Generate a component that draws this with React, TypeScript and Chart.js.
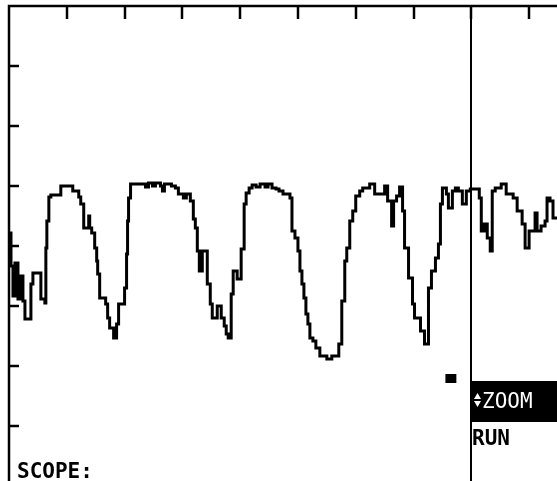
import { useEffect, useRef } from 'react';
import { Chart, registerables } from 'chart.js';

Chart.register(...registerables);

// Sample index where each level begins (stepped trace), 1 division = 58 samples
const SAMPLES = [
  0, 2, 4, 6, 9, 11, 14, 16, 22, 24,
  32, 36, 37, 38, 40, 42, 52, 64, 70, 72,
  75, 80, 81, 83, 86, 88, 89, 91, 97, 99,
  101, 105, 108, 110, 116, 118, 119, 120, 122, 132,
  137, 140, 144, 147, 152, 154, 156, 163, 167, 170,
  175, 178, 182, 185, 187, 189, 191, 194, 199, 202,
  204, 209, 213, 216, 218, 220, 223, 225, 229, 233,
  236, 238, 241, 244, 248, 252, 257, 260, 264, 268,
  271, 275, 282, 284, 287, 290, 292, 294, 296, 298,
  300, 302, 305, 308, 312, 319, 324, 331, 334, 337,
  339, 342, 345, 348, 352, 355, 362, 367, 377, 380,
  384, 386, 389, 392, 395, 397, 401, 405, 407, 413,
  417, 421, 424, 428, 431, 433, 435, 439, 441, 445,
  448, 451, 455, 459, 463, 472, 474, 477, 480, 483,
  485, 488, 494, 499, 506, 510, 515, 518, 522, 528,
  530, 534, 538, 540, 543, 546, 550,
];

// Signal level (counts), 1 division = 60 counts
const LEVELS = [
  253, 220, 190, 223, 187, 210, 185, 167, 202, 213,
  187, 183, 238, 265, 289, 291, 300, 295, 289, 282,
  258, 270, 258, 253, 238, 225, 212, 188, 182, 168,
  158, 148, 162, 182, 198, 232, 265, 288, 302, 302,
  299, 303, 300, 303, 300, 295, 302, 300, 298, 292,
  288, 292, 285, 267, 258, 235, 215, 235, 202, 182,
  168, 180, 168, 160, 152, 148, 192, 215, 207, 237,
  282, 293, 298, 301, 299, 302, 299, 302, 298, 297,
  295, 292, 288, 255, 248, 235, 215, 202, 188, 172,
  162, 148, 145, 138, 130, 127, 130, 142, 185, 225,
  238, 265, 275, 290, 295, 298, 302, 292, 300, 285,
  260, 285, 290, 299, 275, 238, 208, 182, 168, 155,
  142, 198, 215, 228, 242, 282, 298, 292, 278, 295,
  298, 295, 282, 295, 297, 288, 255, 262, 248, 235,
  295, 298, 302, 292, 288, 275, 262, 238, 255, 273,
  255, 260, 265, 288, 285, 268, 268,
];

const X_TICKS = [58, 116, 174, 232, 290, 348, 406, 464, 522];
const Y_TICKS = [60, 120, 180, 240, 300, 360, 420];
const CURSOR_SAMPLE = 464;
const MARKER_SAMPLES = [438, 449];
const MARKER_LEVELS = [103, 112];
const MENU_ITEMS = ['ZOOM', 'RUN'];
const MODE_LABEL = 'SCOPE:';

const FONT = 'bold 21px "DejaVu Sans Mono"';

const scopePlugin = {
  id: 'scopeDecor',
  beforeDraw(chart: any) {
    const ctx = chart.ctx;
    ctx.save();
    ctx.fillStyle = '#fff';
    ctx.fillRect(0, 0, chart.width, chart.height);
    ctx.restore();
  },
  afterDatasetsDraw(chart: any) {
    const { ctx, chartArea: a, scales } = chart;
    const xs = scales.x;
    const ys = scales.y;
    const W = chart.width;
    const H = chart.height;
    const line = (x1: number, y1: number, x2: number, y2: number) => {
      ctx.beginPath();
      ctx.moveTo(x1, y1);
      ctx.lineTo(x2, y2);
      ctx.stroke();
    };
    ctx.save();
    ctx.strokeStyle = '#000';
    ctx.lineCap = 'butt';
    ctx.lineWidth = 2.5;
    // frame
    ctx.beginPath();
    ctx.moveTo(a.left, H);
    ctx.lineTo(a.left, a.top);
    ctx.lineTo(W, a.top);
    ctx.stroke();
    // ticks
    X_TICKS.forEach((v) => {
      const px = Math.round(xs.getPixelForValue(v));
      line(px, a.top, px, a.top + 13);
    });
    Y_TICKS.forEach((v) => {
      const py = Math.round(ys.getPixelForValue(v));
      line(a.left, py, a.left + 10, py);
    });
    // cursor
    const cx = Math.round(xs.getPixelForValue(CURSOR_SAMPLE));
    ctx.lineWidth = 2;
    line(cx, a.top, cx, H);
    // marker
    const mx1 = xs.getPixelForValue(MARKER_SAMPLES[0]);
    const mx2 = xs.getPixelForValue(MARKER_SAMPLES[1]);
    const my1 = ys.getPixelForValue(MARKER_LEVELS[1]);
    const my2 = ys.getPixelForValue(MARKER_LEVELS[0]);
    ctx.fillStyle = '#000';
    ctx.fillRect(mx1, my1, mx2 - mx1, my2 - my1);
    // menu box
    ctx.fillRect(cx - 1, 381, W - cx + 1, 41);
    ctx.fillStyle = '#fff';
    ctx.beginPath();
    ctx.moveTo(477.5, 393);
    ctx.lineTo(481, 399);
    ctx.lineTo(474, 399);
    ctx.closePath();
    ctx.fill();
    ctx.beginPath();
    ctx.moveTo(474, 401);
    ctx.lineTo(481, 401);
    ctx.lineTo(477.5, 407);
    ctx.closePath();
    ctx.fill();
    ctx.textBaseline = 'alphabetic';
    ctx.textAlign = 'left';
    ctx.font = '21px "DejaVu Sans Mono"';
    ctx.fillText(MENU_ITEMS[0], 482, 408);
    ctx.font = FONT;
    ctx.fillStyle = '#000';
    ctx.fillText(MENU_ITEMS[1], 472, 445);
    ctx.fillText(MODE_LABEL, 17, 478);
    ctx.restore();
  },
};

export default function App() {
  const ref = useRef<HTMLCanvasElement>(null);
  useEffect(() => {
    if (!ref.current) return;
    const points = SAMPLES.map((s, i) => ({ x: s, y: LEVELS[i] }));
    const chart = new Chart(ref.current, {
      type: 'line',
      data: {
        datasets: [
          {
            data: points,
            stepped: true,
            borderColor: '#000',
            borderWidth: 3,
            pointRadius: 0,
            fill: false,
            borderJoinStyle: 'miter',
          } as any,
        ],
      },
      options: {
        animation: false,
        responsive: false,
        devicePixelRatio: 1,
        layout: { padding: { left: 9, top: 6, right: 0, bottom: 0 } },
        plugins: { legend: { display: false }, tooltip: { enabled: false } },
        scales: {
          x: { type: 'linear', min: 0, max: 550, display: false },
          y: { type: 'linear', min: 5, max: 480, display: false },
        },
      },
      plugins: [scopePlugin],
    });
    return () => chart.destroy();
  }, []);
  return (
    <div style={{ position: 'fixed', left: 0, top: 0, width: 557, height: 481, background: '#fff' }}>
      <canvas ref={ref} width={557} height={481} style={{ display: 'block' }} />
    </div>
  );
}
